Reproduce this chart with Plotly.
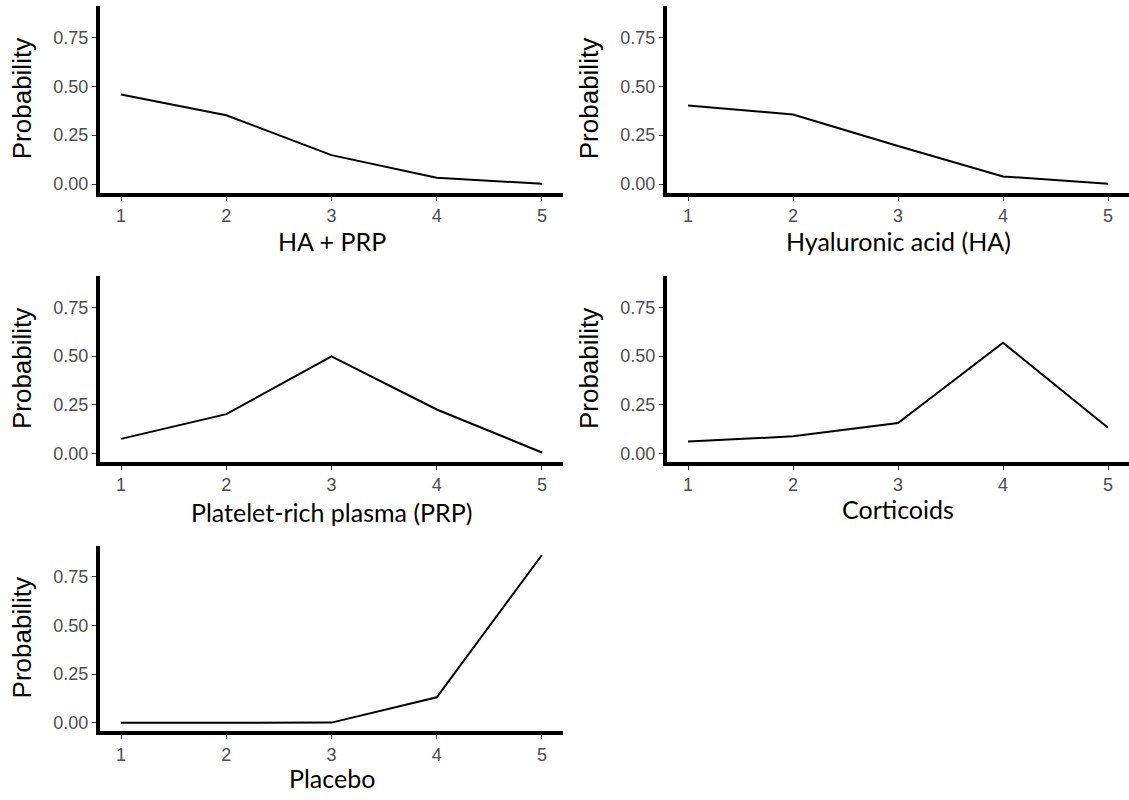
import plotly.graph_objects as go

ranks = [1, 2, 3, 4, 5]
treatments = ["HA + PRP", "Hyaluronic acid (HA)", "Platelet-rich plasma (PRP)", "Corticoids", "Placebo"]
p_ha_prp = [0.458, 0.352, 0.148, 0.032, 0.002]
p_ha = [0.402, 0.356, 0.195, 0.039, 0.002]
p_prp = [0.075, 0.202, 0.499, 0.226, 0.005]
p_cort = [0.061, 0.088, 0.156, 0.569, 0.132]
p_placebo = [0.0, 0.0, 0.001, 0.131, 0.862]
series = [p_ha_prp, p_ha, p_prp, p_cort, p_placebo]
y_ticks = [0.0, 0.25, 0.5, 0.75]
y_ticktext = ["0.00", "0.25", "0.50", "0.75"]

W, H = 1129, 800
# panel boxes in pixels: (left, right, top, bottom)
boxes = [
    (100, 563, 6, 193),
    (667, 1129, 6, 193),
    (100, 563, 277, 463),
    (667, 1129, 277, 463),
    (100, 563, 547, 733),
]
title_y = [242, 242, 513, 510, 780]

tickfont = dict(family="Liberation Sans, Arial", size=18, color="#4d4d4d")

fig = go.Figure()
annotations = []
for i, (vals, name, box) in enumerate(zip(series, treatments, boxes)):
    n = i + 1
    xa = "x" if n == 1 else f"x{n}"
    ya = "y" if n == 1 else f"y{n}"
    fig.add_trace(go.Scatter(x=ranks, y=vals, mode="lines",
                             line=dict(color="black", width=2),
                             xaxis=xa, yaxis=ya, showlegend=False,
                             hoverinfo="x+y"))
    l, r, t, b = box
    xdom = [l / W, r / W]
    ydom = [1 - b / H, 1 - t / H]
    axkey_x = "xaxis" if n == 1 else f"xaxis{n}"
    axkey_y = "yaxis" if n == 1 else f"yaxis{n}"
    fig.update_layout(**{
        axkey_x: dict(domain=xdom, range=[0.8, 5.2], anchor=ya,
                      tickmode="array", tickvals=ranks, ticktext=[str(v) for v in ranks],
                      showline=True, linecolor="black", linewidth=4,
                      ticks="outside", ticklen=4, tickcolor="#333333", tickwidth=1,
                      showgrid=False, zeroline=False, tickfont=tickfont),
        axkey_y: dict(domain=ydom, range=[-0.043, 0.91], anchor=xa,
                      tickmode="array", tickvals=y_ticks, ticktext=y_ticktext,
                      showline=True, linecolor="black", linewidth=4,
                      ticks="outside", ticklen=4, tickcolor="#333333", tickwidth=1,
                      showgrid=False, zeroline=False, tickfont=tickfont),
    })
    annotations.append(dict(text=name, xref="paper", yref="paper",
                            x=(l + r) / 2 / W, y=1 - title_y[i] / H,
                            xanchor="center", yanchor="middle", showarrow=False,
                            font=dict(family="Lato, Noto Sans", size=25, color="black")))
    annotations.append(dict(text="Probability", xref="paper", yref="paper",
                            x=(l - 78) / W, y=1 - (t + b) / 2 / H,
                            xanchor="center", yanchor="middle", showarrow=False,
                            textangle=-90,
                            font=dict(family="Liberation Sans, Arial", size=26, color="black")))

fig.update_layout(width=W, height=H, margin=dict(l=0, r=0, t=0, b=0),
                  paper_bgcolor="white", plot_bgcolor="white",
                  annotations=annotations)
fig.write_html("out.html", config={"displayModeBar": False},
               post_script="document.body.style.margin='0px';")
